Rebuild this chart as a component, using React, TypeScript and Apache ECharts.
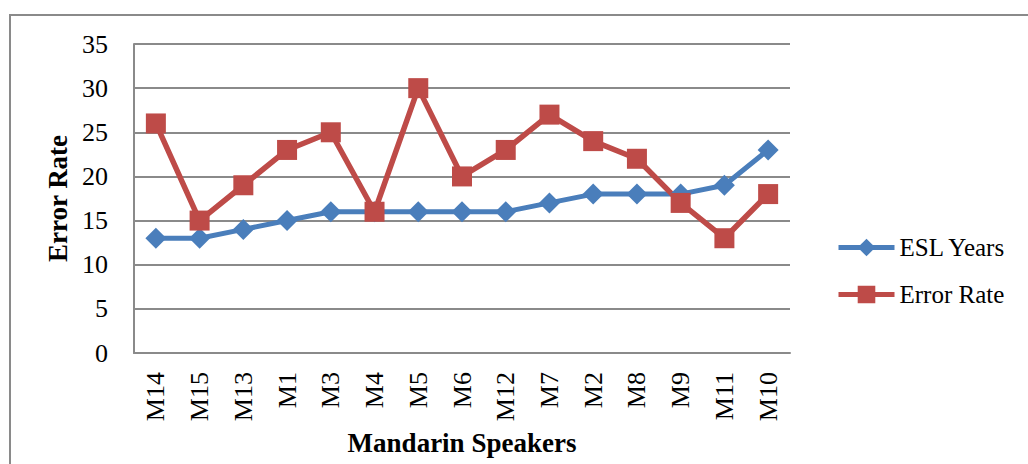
import React, { useEffect, useRef } from "react";
import * as echarts from "echarts";

const categories = ["M14", "M15", "M13", "M1", "M3", "M4", "M5", "M6", "M12", "M7", "M2", "M8", "M9", "M11", "M10"];
const eslYears = [13, 13, 14, 15, 16, 16, 16, 16, 16, 17, 18, 18, 18, 19, 23];
const errorRate = [26, 15, 19, 23, 25, 16, 30, 20, 23, 27, 24, 22, 17, 13, 18];
const yTicks = { min: 0, max: 35, interval: 5 };

const FONT = "'Liberation Serif', 'Times New Roman', serif";
const BLUE = "#4A7EBB";
const RED = "#BE4B48";

export default function App() {
  const ref = useRef<HTMLDivElement>(null);
  useEffect(() => {
    if (!ref.current) return;
    const chart = echarts.init(ref.current, null, { renderer: "svg" });
    chart.setOption({
      animation: false,
      backgroundColor: "#ffffff",
      graphic: [
        {
          type: "rect",
          shape: { x: 10, y: 15, width: 1040, height: 470 },
          style: { fill: "none", stroke: "#8a8a8a", lineWidth: 2 },
          silent: true,
        },
      ],
      grid: { left: 134, top: 44, right: 238, bottom: 111, containLabel: false },
      legend: {
        orient: "vertical",
        left: 831,
        top: 230,
        itemWidth: 56,
        itemHeight: 22,
        itemGap: 22,
        textStyle: { fontFamily: FONT, fontSize: 25, color: "#000", lineHeight: 24 },
        data: [
          { name: "ESL Years", lineStyle: { width: 5, color: BLUE } },
          { name: "Error Rate", lineStyle: { width: 5, color: RED } },
        ],
      },
      xAxis: {
        type: "category",
        data: categories,
        boundaryGap: true,
        name: "Mandarin Speakers",
        nameLocation: "middle",
        nameGap: 68,
        nameTextStyle: { fontFamily: FONT, fontSize: 27, fontWeight: "bold", color: "#000" },
        axisLine: { show: true, lineStyle: { color: "#8a8a8a", width: 2 } },
        axisTick: { show: false },
        axisLabel: { rotate: 90, margin: 19, fontFamily: FONT, fontSize: 26, color: "#000" },
        splitLine: { show: false },
      },
      yAxis: {
        type: "value",
        min: yTicks.min,
        max: yTicks.max,
        interval: yTicks.interval,
        name: "Error Rate",
        nameLocation: "middle",
        nameGap: 61,
        nameTextStyle: { fontFamily: FONT, fontSize: 27, fontWeight: "bold", color: "#000" },
        axisLine: { show: true, lineStyle: { color: "#8a8a8a", width: 2 } },
        axisTick: { show: false },
        axisLabel: { margin: 26, fontFamily: FONT, fontSize: 26, color: "#000" },
        splitLine: { show: true, lineStyle: { color: "#8a8a8a", width: 2 } },
      },
      series: [
        {
          name: "ESL Years",
          type: "line",
          data: eslYears,
          symbol: "diamond",
          symbolSize: 21,
          itemStyle: { color: BLUE },
          lineStyle: { color: BLUE, width: 5 },
        },
        {
          name: "Error Rate",
          type: "line",
          data: errorRate,
          symbol: "rect",
          symbolSize: 20,
          itemStyle: { color: RED },
          lineStyle: { color: RED, width: 5.5 },
        },
      ],
    });
    return () => chart.dispose();
  }, []);
  return (
    <div
      ref={ref}
      style={{ position: "fixed", left: 0, top: 0, width: 1028, height: 464 }}
    />
  );
}
